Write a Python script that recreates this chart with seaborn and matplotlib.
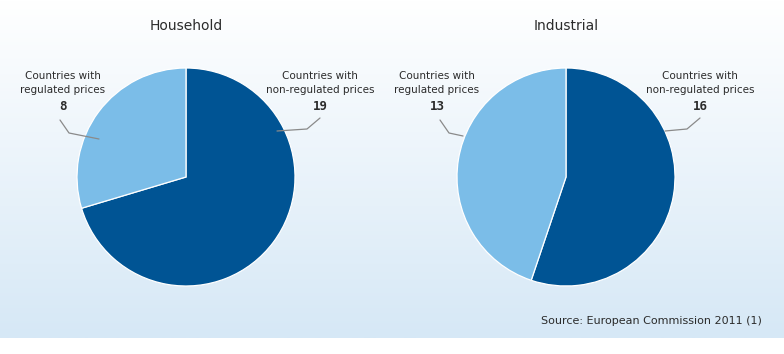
import numpy as np
import matplotlib
matplotlib.use("Agg")
import matplotlib.pyplot as plt
import seaborn as sns
from matplotlib.colors import LinearSegmentedColormap

# ---- data ----
panels = ["Household", "Industrial"]
categories = ["Countries with\nnon-regulated prices", "Countries with\nregulated prices"]
household_values = [19, 8]
industrial_values = [16, 13]
source_text = "Source: European Commission 2011 (1)"

sns.set_style("white")
plt.rcParams['font.family'] = ['DejaVu Sans']

W, H = 784, 354
fig = plt.figure(figsize=(W / 100, H / 100), dpi=100)

def fx(x):
    return x / W

def fy(y):
    return 1 - y / H

# background gradient
bg = fig.add_axes([0, 0, 1, 1], zorder=-10)
grad_h = 338
grad = np.linspace(0, 1, 256).reshape(-1, 1)
cmap = LinearSegmentedColormap.from_list("bg", ["#ffffff", "#d6e8f6"])
bg.imshow(grad, aspect="auto", cmap=cmap, extent=[0, W, grad_h, 0])
bg.set_xlim(0, W)
bg.set_ylim(H, 0)
bg.axis("off")

dark = "#005494"
light = "#7bbde8"
txt = "#2b2b2b"
lead = "#8a8a8a"

centers = [(186, 177), (566, 177)]
radius = 109
values_list = [household_values, industrial_values]

for (cx, cy), title, vals in zip(centers, panels, values_list):
    ax = fig.add_axes([fx(cx - radius), fy(cy + radius), 2 * radius / W, 2 * radius / H])
    ax.pie(vals, colors=[dark, light], startangle=90, counterclock=False,
           radius=1, wedgeprops=dict(edgecolor="white", linewidth=0.9))
    ax.set_xlim(-1, 1)
    ax.set_ylim(-1, 1)
    ax.set_aspect("auto")
    ax.axis("off")
    fig.text(fx(cx), fy(26), title, ha="center", va="center", fontsize=10, color=txt)

# overlay for leader lines
ov = fig.add_axes([0, 0, 1, 1], zorder=10)
ov.set_xlim(0, W)
ov.set_ylim(H, 0)
ov.axis("off")
ov.patch.set_alpha(0)

label_specs = [
    (320, categories[0], household_values[0], [(320, 118), (307, 129), (277, 131)]),
    (63, categories[1], household_values[1], [(60, 120), (69, 133), (99, 139)]),
    (700, categories[0], industrial_values[0], [(700, 118), (687, 129), (665, 131)]),
    (437, categories[1], industrial_values[1], [(440, 120), (449, 133), (463, 136)]),
]

for lx, lab, val, pts in label_specs:
    fig.text(fx(lx), fy(83), lab, ha="center", va="center", fontsize=7.5,
             color=txt, linespacing=1.45)
    fig.text(fx(lx), fy(107), str(val), ha="center", va="center", fontsize=9,
             fontweight="bold", family="DejaVu Sans Mono", color=txt)
    xs = [p[0] for p in pts]
    ys = [p[1] for p in pts]
    ov.plot(xs, ys, color=lead, lw=0.9)

fig.text(fx(762), fy(321), source_text, ha="right", va="center", fontsize=8, color=txt)

fig.savefig("out.png", dpi=100)
